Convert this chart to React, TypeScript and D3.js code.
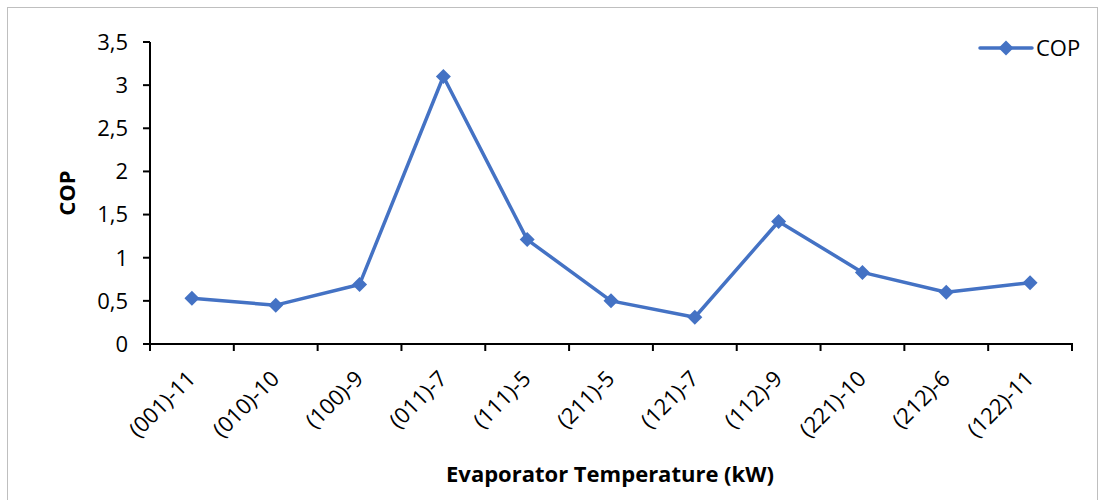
import React from "react";
import * as d3 from "d3";

const categories = [
  "(001)-11", "(010)-10", "(100)-9", "(011)-7", "(111)-5", "(211)-5",
  "(121)-7", "(112)-9", "(221)-10", "(212)-6", "(122)-11",
];
const copValues = [0.53, 0.45, 0.69, 3.1, 1.21, 0.5, 0.31, 1.42, 0.83, 0.6, 0.71];
const yTicks = [0, 0.5, 1, 1.5, 2, 2.5, 3, 3.5];
const seriesName = "COP";
const xTitle = "Evaporator Temperature (kW)";
const yTitle = "COP";

const W = 1104;
const H = 500;
const M = { left: 150, right: 1072, top: 42, bottom: 344 };
const FONT = "'Open Sans', Lato, sans-serif";
const BLUE = "#4472C4";
const FS = 22;

const fmt = (v: number) => String(v).replace(".", ",");

function diamond(cx: number, cy: number, r: number) {
  return `M${cx},${cy - r}L${cx + r},${cy}L${cx},${cy + r}L${cx - r},${cy}Z`;
}

export default function App() {
  const x = d3.scaleBand<string>().domain(categories).range([M.left, M.right]);
  const y = d3.scaleLinear().domain([0, 3.5]).range([M.bottom, M.top]);
  const cx = (c: string) => (x(c) ?? 0) + x.bandwidth() / 2;

  const line = d3
    .line<number>()
    .x((_, i) => cx(categories[i]))
    .y((d) => y(d));

  const boundaries = d3.range(categories.length + 1).map((i) => M.left + i * x.bandwidth());

  return (
    <svg
      width={W}
      height={H}
      style={{ position: "absolute", left: 0, top: 0, display: "block" }}
      fontFamily={FONT}
    >
      <rect x={0} y={0} width={W} height={H} fill="#fff" />
      <rect x={7.5} y={7.5} width={1090} height={500} fill="none" stroke="#bfbfbf" strokeWidth={1} />

      {/* y axis */}
      <line x1={M.left} x2={M.left} y1={M.top} y2={M.bottom} stroke="#000" strokeWidth={2} />
      {yTicks.map((t) => (
        <g key={t}>
          <line x1={M.left - 7} x2={M.left} y1={y(t)} y2={y(t)} stroke="#000" strokeWidth={2} />
          <text x={M.left - 22} y={y(t)} dy="0.36em" textAnchor="end" fontSize={FS} fill="#000">
            {fmt(t)}
          </text>
        </g>
      ))}

      {/* x axis */}
      <line x1={M.left - 1} x2={M.right + 1} y1={M.bottom} y2={M.bottom} stroke="#000" strokeWidth={2} />
      {boundaries.map((b, i) => (
        <line key={i} x1={b} x2={b} y1={M.bottom} y2={M.bottom + 7} stroke="#000" strokeWidth={2} />
      ))}
      {categories.map((c) => (
        <text
          key={c}
          transform={`translate(${cx(c) + 5},${M.bottom + 36}) rotate(-45)`}
          textAnchor="end"
          fontSize={FS}
          fill="#000"
        >
          {c}
        </text>
      ))}

      {/* titles */}
      <text x={610} y={482} textAnchor="middle" fontSize={FS} fontWeight="bold" fill="#000">
        {xTitle}
      </text>
      <text
        transform={`translate(75,${(M.top + M.bottom) / 2}) rotate(-90)`}
        textAnchor="middle"
        fontSize={FS}
        fontWeight="bold"
        fill="#000"
      >
        {yTitle}
      </text>

      {/* series */}
      <path d={line(copValues) ?? ""} fill="none" stroke={BLUE} strokeWidth={3.5} strokeLinejoin="round" />
      {copValues.map((v, i) => (
        <path key={i} d={diamond(cx(categories[i]), y(v), 7.5)} fill={BLUE} />
      ))}

      {/* legend */}
      <line x1={980} x2={1032} y1={48} y2={48} stroke={BLUE} strokeWidth={3.5} strokeLinecap="round" />
      <path d={diamond(1006, 48, 7.5)} fill={BLUE} />
      <text x={1036} y={48} dy="0.36em" fontSize={FS} fill="#000">
        {seriesName}
      </text>
    </svg>
  );
}
